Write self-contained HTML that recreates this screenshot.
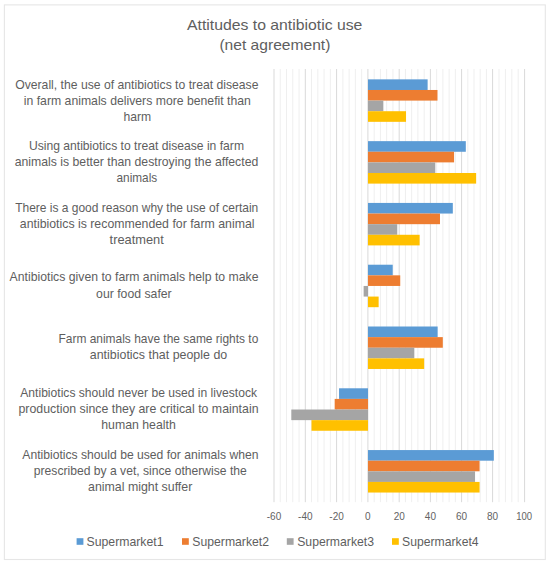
<!DOCTYPE html>
<html lang="en">
<head>
<meta charset="utf-8">
<title>Attitudes to antibiotic use (net agreement)</title>
<style>
html,body{margin:0;padding:0;background:#fff;}
svg{display:block;}
text{font-family:"Liberation Sans",sans-serif;fill:#5e5e5e;}
.lab{font-size:12.2px;}
.ttl{font-size:14.8px;}
.ax{font-size:10px;fill:#636363;}
.lg{font-size:12.2px;}
</style>
</head>
<body>
<svg width="550" height="565" viewBox="0 0 550 565">
<rect x="0" y="0" width="550" height="565" fill="#ffffff"/>
<rect x="4.4" y="4.9" width="540.9" height="554.6" fill="#ffffff" stroke="#e6e6e6" stroke-width="1.1"/>
<g stroke-width="1">
<line x1="274.00" y1="69.0" x2="274.00" y2="502.2" stroke="#D9D9D9"/>
<line x1="280.26" y1="69.0" x2="280.26" y2="502.2" stroke="#EFEFEF"/>
<line x1="286.52" y1="69.0" x2="286.52" y2="502.2" stroke="#EFEFEF"/>
<line x1="292.78" y1="69.0" x2="292.78" y2="502.2" stroke="#EFEFEF"/>
<line x1="299.04" y1="69.0" x2="299.04" y2="502.2" stroke="#EFEFEF"/>
<line x1="305.30" y1="69.0" x2="305.30" y2="502.2" stroke="#D9D9D9"/>
<line x1="311.56" y1="69.0" x2="311.56" y2="502.2" stroke="#EFEFEF"/>
<line x1="317.82" y1="69.0" x2="317.82" y2="502.2" stroke="#EFEFEF"/>
<line x1="324.08" y1="69.0" x2="324.08" y2="502.2" stroke="#EFEFEF"/>
<line x1="330.34" y1="69.0" x2="330.34" y2="502.2" stroke="#EFEFEF"/>
<line x1="336.60" y1="69.0" x2="336.60" y2="502.2" stroke="#D9D9D9"/>
<line x1="342.86" y1="69.0" x2="342.86" y2="502.2" stroke="#EFEFEF"/>
<line x1="349.12" y1="69.0" x2="349.12" y2="502.2" stroke="#EFEFEF"/>
<line x1="355.38" y1="69.0" x2="355.38" y2="502.2" stroke="#EFEFEF"/>
<line x1="361.64" y1="69.0" x2="361.64" y2="502.2" stroke="#EFEFEF"/>
<line x1="367.90" y1="69.0" x2="367.90" y2="502.2" stroke="#D9D9D9"/>
<line x1="374.16" y1="69.0" x2="374.16" y2="502.2" stroke="#EFEFEF"/>
<line x1="380.42" y1="69.0" x2="380.42" y2="502.2" stroke="#EFEFEF"/>
<line x1="386.68" y1="69.0" x2="386.68" y2="502.2" stroke="#EFEFEF"/>
<line x1="392.94" y1="69.0" x2="392.94" y2="502.2" stroke="#EFEFEF"/>
<line x1="399.20" y1="69.0" x2="399.20" y2="502.2" stroke="#D9D9D9"/>
<line x1="405.44" y1="69.0" x2="405.44" y2="502.2" stroke="#EFEFEF"/>
<line x1="411.68" y1="69.0" x2="411.68" y2="502.2" stroke="#EFEFEF"/>
<line x1="417.92" y1="69.0" x2="417.92" y2="502.2" stroke="#EFEFEF"/>
<line x1="424.16" y1="69.0" x2="424.16" y2="502.2" stroke="#EFEFEF"/>
<line x1="430.40" y1="69.0" x2="430.40" y2="502.2" stroke="#D9D9D9"/>
<line x1="436.64" y1="69.0" x2="436.64" y2="502.2" stroke="#EFEFEF"/>
<line x1="442.88" y1="69.0" x2="442.88" y2="502.2" stroke="#EFEFEF"/>
<line x1="449.12" y1="69.0" x2="449.12" y2="502.2" stroke="#EFEFEF"/>
<line x1="455.36" y1="69.0" x2="455.36" y2="502.2" stroke="#EFEFEF"/>
<line x1="461.60" y1="69.0" x2="461.60" y2="502.2" stroke="#D9D9D9"/>
<line x1="467.80" y1="69.0" x2="467.80" y2="502.2" stroke="#EFEFEF"/>
<line x1="474.00" y1="69.0" x2="474.00" y2="502.2" stroke="#EFEFEF"/>
<line x1="480.20" y1="69.0" x2="480.20" y2="502.2" stroke="#EFEFEF"/>
<line x1="486.40" y1="69.0" x2="486.40" y2="502.2" stroke="#EFEFEF"/>
<line x1="492.60" y1="69.0" x2="492.60" y2="502.2" stroke="#D9D9D9"/>
<line x1="499.00" y1="69.0" x2="499.00" y2="502.2" stroke="#EFEFEF"/>
<line x1="505.40" y1="69.0" x2="505.40" y2="502.2" stroke="#EFEFEF"/>
<line x1="511.80" y1="69.0" x2="511.80" y2="502.2" stroke="#EFEFEF"/>
<line x1="518.20" y1="69.0" x2="518.20" y2="502.2" stroke="#EFEFEF"/>
<line x1="524.60" y1="69.0" x2="524.60" y2="502.2" stroke="#D9D9D9"/>
</g>
<g>
<rect x="368.00" y="79.36" width="59.63" height="10.62" fill="#5B9BD5"/>
<rect x="368.00" y="89.98" width="69.49" height="10.62" fill="#ED7D31"/>
<rect x="368.00" y="100.59" width="15.34" height="10.62" fill="#A5A5A5"/>
<rect x="368.00" y="111.21" width="38.03" height="10.62" fill="#FFC000"/>
<rect x="368.00" y="141.15" width="97.81" height="10.62" fill="#5B9BD5"/>
<rect x="368.00" y="151.76" width="86.08" height="10.62" fill="#ED7D31"/>
<rect x="368.00" y="162.38" width="67.30" height="10.62" fill="#A5A5A5"/>
<rect x="368.00" y="172.99" width="108.14" height="10.62" fill="#FFC000"/>
<rect x="368.00" y="202.93" width="84.82" height="10.62" fill="#5B9BD5"/>
<rect x="368.00" y="213.55" width="71.99" height="10.62" fill="#ED7D31"/>
<rect x="368.00" y="224.16" width="29.27" height="10.62" fill="#A5A5A5"/>
<rect x="368.00" y="234.78" width="51.64" height="10.62" fill="#FFC000"/>
<rect x="368.00" y="264.72" width="24.73" height="10.62" fill="#5B9BD5"/>
<rect x="368.00" y="275.33" width="32.24" height="10.62" fill="#ED7D31"/>
<rect x="363.62" y="285.95" width="4.38" height="10.62" fill="#A5A5A5"/>
<rect x="368.00" y="296.57" width="10.64" height="10.62" fill="#FFC000"/>
<rect x="368.00" y="326.50" width="69.64" height="10.62" fill="#5B9BD5"/>
<rect x="368.00" y="337.12" width="74.81" height="10.62" fill="#ED7D31"/>
<rect x="368.00" y="347.74" width="46.32" height="10.62" fill="#A5A5A5"/>
<rect x="368.00" y="358.35" width="56.18" height="10.62" fill="#FFC000"/>
<rect x="339.05" y="388.29" width="28.95" height="10.62" fill="#5B9BD5"/>
<rect x="334.67" y="398.91" width="33.33" height="10.62" fill="#ED7D31"/>
<rect x="291.31" y="409.52" width="76.69" height="10.62" fill="#A5A5A5"/>
<rect x="311.50" y="420.14" width="56.50" height="10.62" fill="#FFC000"/>
<rect x="368.00" y="450.07" width="125.83" height="10.62" fill="#5B9BD5"/>
<rect x="368.00" y="460.69" width="111.58" height="10.62" fill="#ED7D31"/>
<rect x="368.00" y="471.31" width="107.05" height="10.62" fill="#A5A5A5"/>
<rect x="368.00" y="481.92" width="111.58" height="10.62" fill="#FFC000"/>
</g>
<text class="ttl" x="187.0" y="29.7" textLength="175.4" lengthAdjust="spacingAndGlyphs">Attitudes to antibiotic use</text>
<text class="ttl" x="219.4" y="50.0" textLength="111.0" lengthAdjust="spacingAndGlyphs">(net agreement)</text>
<text class="lab" x="15.2" y="88.5" textLength="243.3" lengthAdjust="spacingAndGlyphs">Overall, the use of antibiotics to treat disease</text>
<text class="lab" x="23.8" y="104.7" textLength="227.1" lengthAdjust="spacingAndGlyphs">in farm animals delivers more benefit than</text>
<text class="lab" x="123.4" y="120.7" textLength="27.7" lengthAdjust="spacingAndGlyphs">harm</text>
<text class="lab" x="28.9" y="149.8" textLength="215.1" lengthAdjust="spacingAndGlyphs">Using antibiotics to treat disease in farm</text>
<text class="lab" x="14.7" y="165.8" textLength="243.6" lengthAdjust="spacingAndGlyphs">animals is better than destroying the affected</text>
<text class="lab" x="116.5" y="181.9" textLength="40.7" lengthAdjust="spacingAndGlyphs">animals</text>
<text class="lab" x="15.2" y="211.8" textLength="243.1" lengthAdjust="spacingAndGlyphs">There is a good reason why the use of certain</text>
<text class="lab" x="19.8" y="227.9" textLength="234.7" lengthAdjust="spacingAndGlyphs">antibiotics is recommended for farm animal</text>
<text class="lab" x="109.6" y="243.9" textLength="54.2" lengthAdjust="spacingAndGlyphs">treatment</text>
<text class="lab" x="9.6" y="281.4" textLength="248.9" lengthAdjust="spacingAndGlyphs">Antibiotics given to farm animals help to make</text>
<text class="lab" x="96.1" y="297.6" textLength="75.6" lengthAdjust="spacingAndGlyphs">our food safer</text>
<text class="lab" x="58.5" y="343.1" textLength="199.8" lengthAdjust="spacingAndGlyphs">Farm animals have the same rights to</text>
<text class="lab" x="89.8" y="359.4" textLength="137.4" lengthAdjust="spacingAndGlyphs">antibiotics that people do</text>
<text class="lab" x="20.3" y="397.1" textLength="236.7" lengthAdjust="spacingAndGlyphs">Antibiotics should never be used in livestock</text>
<text class="lab" x="18.5" y="413.4" textLength="240.0" lengthAdjust="spacingAndGlyphs">production since they are critical to maintain</text>
<text class="lab" x="101.2" y="429.4" textLength="74.6" lengthAdjust="spacingAndGlyphs">human health</text>
<text class="lab" x="22.3" y="458.9" textLength="236.2" lengthAdjust="spacingAndGlyphs">Antibiotics should be used for animals when</text>
<text class="lab" x="33.8" y="475.1" textLength="213.0" lengthAdjust="spacingAndGlyphs">prescribed by a vet, since otherwise the</text>
<text class="lab" x="88.0" y="491.1" textLength="104.3" lengthAdjust="spacingAndGlyphs">animal might suffer</text>
<text class="ax" x="274.0" y="519.6" text-anchor="middle">-60</text>
<text class="ax" x="305.3" y="519.6" text-anchor="middle">-40</text>
<text class="ax" x="336.6" y="519.6" text-anchor="middle">-20</text>
<text class="ax" x="367.9" y="519.6" text-anchor="middle">0</text>
<text class="ax" x="399.2" y="519.6" text-anchor="middle">20</text>
<text class="ax" x="430.4" y="519.6" text-anchor="middle">40</text>
<text class="ax" x="461.6" y="519.6" text-anchor="middle">60</text>
<text class="ax" x="492.6" y="519.6" text-anchor="middle">80</text>
<text class="ax" x="516.2" y="519.6" textLength="15.9" lengthAdjust="spacingAndGlyphs">100</text>
<rect x="76.6" y="538.2" width="6.8" height="6.6" fill="#5B9BD5"/>
<text class="lg" x="86.5" y="545.6" textLength="77.0" lengthAdjust="spacingAndGlyphs">Supermarket1</text>
<rect x="182.0" y="538.2" width="6.8" height="6.6" fill="#ED7D31"/>
<text class="lg" x="192.3" y="545.6" textLength="76.7" lengthAdjust="spacingAndGlyphs">Supermarket2</text>
<rect x="286.8" y="538.2" width="6.8" height="6.6" fill="#A5A5A5"/>
<text class="lg" x="297.2" y="545.6" textLength="76.8" lengthAdjust="spacingAndGlyphs">Supermarket3</text>
<rect x="392.0" y="538.2" width="6.8" height="6.6" fill="#FFC000"/>
<text class="lg" x="402.1" y="545.6" textLength="76.5" lengthAdjust="spacingAndGlyphs">Supermarket4</text>
</svg>
</body>
</html>
